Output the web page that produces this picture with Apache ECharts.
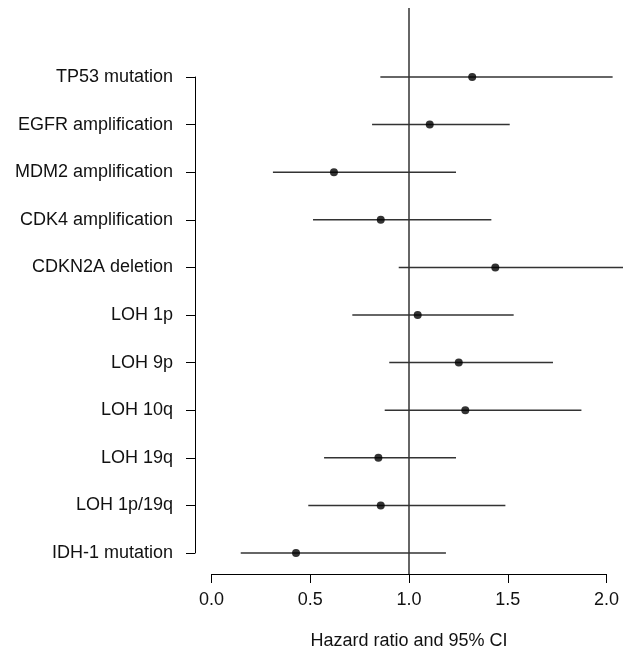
<!DOCTYPE html>
<html>
<head>
<meta charset="utf-8">
<script src="https://cdn.jsdelivr.net/npm/echarts@6/dist/echarts.min.js"></script>
<style>
  html, body { margin: 0; padding: 0; background: #fff; }
  #chart { width: 623px; height: 663px; }
</style>
</head>
<body>
<div id="chart"></div>
<script>
// 数据
const markers = [
  'TP53 mutation', 'EGFR amplification', 'MDM2 amplification', 'CDK4 amplification',
  'CDKN2A deletion', 'LOH 1p', 'LOH 9p', 'LOH 10q', 'LOH 19q', 'LOH 1p/19q', 'IDH-1 mutation',
];
const hazardRatio = [1.32, 1.105, 0.62, 0.857, 1.437, 1.044, 1.252, 1.285, 0.845, 0.857, 0.428];
const ciLower = [0.855, 0.813, 0.311, 0.514, 0.948, 0.713, 0.9, 0.877, 0.57, 0.49, 0.148];
const ciUpper = [2.031, 1.51, 1.238, 1.417, 2.2, 1.53, 1.729, 1.873, 1.238, 1.488, 1.187];
const xTicks = [0, 0.5, 1, 1.5, 2];
const refLine = 1;

const chart = echarts.init(document.getElementById('chart'));
const font = 'Liberation Sans, Arial, sans-serif';

const option = {
  animation: false,
  grid: [
    { left: 211.5, right: 16.5, top: 77, bottom: 110 },
    // 参考线用的区域
    { left: 211.5, right: 16.5, top: 8, bottom: 89 },
  ],
  xAxis: [
    {
      type: 'value',
      gridIndex: 0,
      min: xTicks[0],
      max: xTicks[xTicks.length - 1],
      interval: 0.5,
      offset: 21,
      splitLine: { show: false },
      axisLine: { show: true, onZero: false, lineStyle: { color: '#000', width: 1 } },
      axisTick: { show: true, length: 9, lineStyle: { color: '#000' } },
      axisLabel: {
        color: '#111',
        fontFamily: font,
        fontSize: 18,
        margin: 17,
        formatter: (v) => v.toFixed(1),
      },
      name: 'Hazard ratio and 95% CI',
      nameLocation: 'middle',
      nameGap: 58,
      nameTextStyle: { color: '#111', fontFamily: font, fontSize: 18 },
    },
    {
      type: 'value',
      gridIndex: 1,
      min: xTicks[0],
      max: xTicks[xTicks.length - 1],
      show: false,
    },
  ],
  yAxis: [
    {
      type: 'category',
      gridIndex: 0,
      data: markers,
      inverse: true,
      boundaryGap: false,
      offset: 16.5,
      axisLine: { show: true, onZero: false, lineStyle: { color: '#000', width: 1 } },
      axisTick: { show: true, length: 9, lineStyle: { color: '#000' } },
      axisLabel: {
        color: '#111',
        fontFamily: font,
        fontSize: 18,
        margin: 22,
        interval: 0,
      },
      splitLine: { show: false },
    },
    {
      type: 'value',
      gridIndex: 1,
      min: 0,
      max: 1,
      show: false,
    },
  ],
  series: [
    {
      type: 'line',
      xAxisIndex: 1,
      yAxisIndex: 1,
      symbol: 'none',
      data: [[refLine, 0], [refLine, 1]],
      lineStyle: { color: '#333', width: 1.5 },
    },
    {
      // 置信区间
      type: 'custom',
      xAxisIndex: 0,
      yAxisIndex: 0,
      clip: false,
      data: markers.map((m, i) => [ciLower[i], ciUpper[i], i]),
      encode: { x: [0, 1], y: 2 },
      renderItem(params, api) {
        const lo = api.coord([api.value(0), api.value(2)]);
        const hi = api.coord([api.value(1), api.value(2)]);
        return {
          type: 'line',
          shape: { x1: lo[0], y1: lo[1], x2: hi[0], y2: hi[1] },
          style: { stroke: '#333', lineWidth: 1.5 },
        };
      },
    },
    {
      type: 'scatter',
      xAxisIndex: 0,
      yAxisIndex: 0,
      symbol: 'circle',
      symbolSize: 8,
      itemStyle: { color: '#000' },
      data: markers.map((m, i) => [hazardRatio[i], m]),
    },
  ],
};

chart.setOption(option);
</script>
</body>
</html>
